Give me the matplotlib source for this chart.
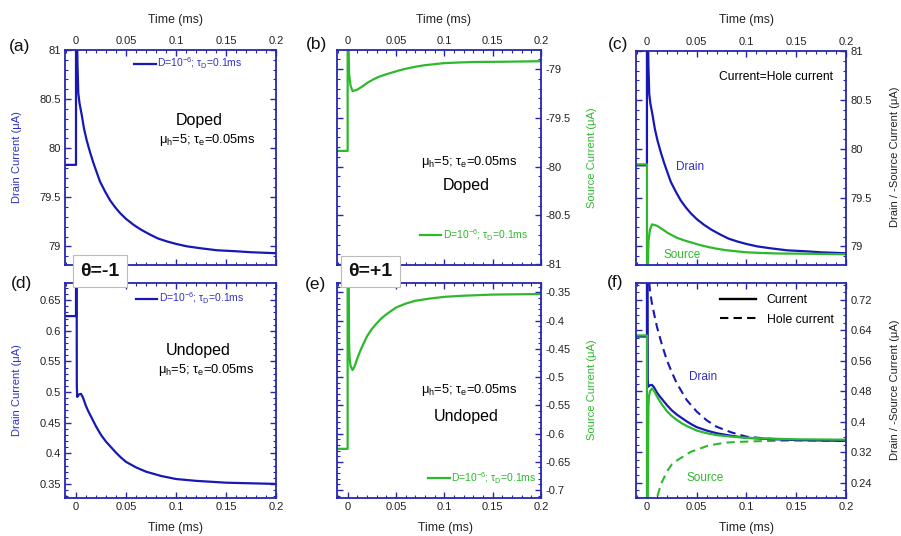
import matplotlib
matplotlib.use('Agg')
import matplotlib.pyplot as plt
from matplotlib.ticker import MultipleLocator, FuncFormatter
import numpy as np

plt.rcParams['font.family'] = ['Liberation Sans', 'DejaVu Sans']
plt.rcParams['mathtext.fontset'] = 'custom'
plt.rcParams['mathtext.rm'] = 'Liberation Sans'
plt.rcParams['mathtext.it'] = 'Liberation Sans:italic'
plt.rcParams['mathtext.bf'] = 'Liberation Sans:bold'
plt.rcParams['axes.unicode_minus'] = False

# ---------------- data (time in ms, current in uA) ----------------
# (a)/(c) drain current, doped
t_drain_doped = [-0.011, 0.0, 0.0, 0.0008, 0.0015, 0.0023, 0.0035, 0.0057, 0.0080, 0.0107,
                 0.0140, 0.0174, 0.0205, 0.0240, 0.0290, 0.0340, 0.0390, 0.0440, 0.0500,
                 0.0575, 0.0650, 0.0740, 0.0820, 0.0910, 0.1000, 0.1110, 0.1250, 0.1410,
                 0.1600, 0.1750, 0.2000]
i_drain_doped = [79.83, 79.83, 81.6, 81.3, 80.85, 80.56, 80.46, 80.34, 80.20, 80.08,
                 79.96, 79.85, 79.76, 79.66, 79.56, 79.47, 79.40, 79.34, 79.28,
                 79.22, 79.17, 79.12, 79.08, 79.05, 79.025, 79.00, 78.98, 78.96,
                 78.95, 78.94, 78.93]
# (b) source current, doped  (panel c shows its negative)
t_source_doped = [-0.011, 0.0, 0.0, 0.0006, 0.0015, 0.0030, 0.0050, 0.0075, 0.0103, 0.0150,
                  0.0206, 0.0260, 0.0310, 0.0380, 0.0447, 0.0530, 0.0620, 0.0700, 0.0790,
                  0.0900, 0.0997, 0.1150, 0.1310, 0.1650, 0.2000]
i_source_doped = [-79.84, -79.84, -78.6, -78.6, -79.05, -79.17, -79.225, -79.22, -79.21, -79.18,
                  -79.14, -79.11, -79.085, -79.06, -79.04, -79.015, -78.993, -78.977, -78.962,
                  -78.95, -78.94, -78.933, -78.928, -78.925, -78.92]
# (d)/(f) drain current, undoped
t_drain_undoped = [-0.011, 0.0, 0.0, 0.0006, 0.0008, 0.0012, 0.0020, 0.0030, 0.0050, 0.0070,
                   0.0100, 0.0125, 0.0150, 0.0175, 0.0200, 0.0250, 0.0300, 0.0350, 0.0400,
                   0.0450, 0.0500, 0.0600, 0.0700, 0.0850, 0.1000, 0.1200, 0.1500, 0.2000]
i_drain_undoped = [0.624, 0.624, 0.80, 0.80, 0.510, 0.492, 0.494, 0.496, 0.497, 0.491,
                   0.477, 0.468, 0.460, 0.452, 0.444, 0.430, 0.419, 0.410, 0.401,
                   0.393, 0.386, 0.377, 0.370, 0.363, 0.358, 0.355, 0.352, 0.350]
# (e) source current, undoped  (panel f shows its negative)
t_source_undoped = [-0.011, 0.0, 0.0, 0.0006, 0.0015, 0.0020, 0.0030, 0.0050, 0.0070, 0.0100,
                    0.0125, 0.0150, 0.0175, 0.0200, 0.0250, 0.0300, 0.0350, 0.0400, 0.0450,
                    0.0500, 0.0600, 0.0700, 0.0850, 0.1000, 0.1200, 0.1500, 0.2000]
i_source_undoped = [-0.627, -0.627, -0.15, -0.15, -0.44, -0.465, -0.480, -0.4875, -0.482, -0.467,
                    -0.456, -0.446, -0.437, -0.428, -0.415, -0.405, -0.396, -0.389, -0.383,
                    -0.377, -0.370, -0.365, -0.361, -0.358, -0.356, -0.354, -0.353]
# (f) hole currents, undoped
t_drain_hole = [0.0012, 0.0030, 0.0050, 0.0075, 0.0100, 0.0150, 0.0200, 0.0250, 0.0300,
                0.0400, 0.0500, 0.0600, 0.0700, 0.0850, 0.1000, 0.1200, 0.1500, 0.2000]
i_drain_hole = [0.80, 0.745, 0.711, 0.680, 0.650, 0.603, 0.562, 0.530, 0.501,
                0.457, 0.427, 0.404, 0.387, 0.372, 0.361, 0.356, 0.352, 0.350]
t_source_hole = [0.0080, 0.0100, 0.0143, 0.0210, 0.0250, 0.0310, 0.0440, 0.0610, 0.0775,
                 0.0900, 0.1110, 0.1500, 0.2000]
i_source_hole = [0.17, 0.20, 0.238, 0.273, 0.288, 0.300, 0.321, 0.337, 0.345,
                 0.347, 0.349, 0.351, 0.351]

xticks = [0, 0.05, 0.1, 0.15, 0.2]

# ---------------- styling ----------------
W, H = 901, 536
BLUE = '#1818b4'
BLUE_TXT = '#3030c8'
GREEN = '#2eb82e'
FRAME = '#2626b0'
TICKC = '#222222'

fig = plt.figure(figsize=(W / 100, H / 100), dpi=100)


def rect(l, r, t, b):
    return [l / W, 1 - b / H, (r - l) / W, (b - t) / H]


fmt = FuncFormatter(lambda v, p: f'{v:.10g}')


def make_ax(box, top, yright, ylim, ymaj, ymin):
    ax = fig.add_axes(rect(*box))
    ax.set_xlim(-0.011, 0.2)
    ax.set_ylim(*ylim)
    ax.set_xticks(xticks)
    ax.xaxis.set_minor_locator(MultipleLocator(0.01))
    ax.yaxis.set_major_locator(MultipleLocator(ymaj))
    ax.yaxis.set_minor_locator(MultipleLocator(ymin))
    ax.xaxis.set_major_formatter(fmt)
    ax.yaxis.set_major_formatter(fmt)
    for s in ax.spines.values():
        s.set_color(FRAME)
        s.set_linewidth(1.3)
    ax.tick_params(which='both', direction='in', top=True, bottom=True, left=True, right=True,
                   color=FRAME, labelcolor=TICKC, labelsize=8, pad=3)
    ax.tick_params(which='major', length=4, width=1.0)
    ax.tick_params(which='minor', length=2.2, width=0.8)
    ax.tick_params(axis='x', labeltop=top, labelbottom=not top)
    ax.tick_params(axis='y', labelleft=not yright, labelright=yright)
    return ax


leg_label = 'D=10$^{-6}$; τ$_{\\mathrm{D}}$=0.1ms'
param_txt = 'μ$_{\\mathrm{h}}$=5; τ$_{\\mathrm{e}}$=0.05ms'
LW = 1.6
PFS = 9.3
DFS = 11.5


def add_leg(ax, color, cx, cy):
    lg = ax.legend(loc='center', bbox_to_anchor=(cx, cy), frameon=False, fontsize=7.5,
                   handlelength=2.1, handletextpad=0.15, borderpad=0, borderaxespad=0,
                   labelcolor=color)
    return lg


# (a)
ax = make_ax((65, 276, 50, 265), True, False, (78.81, 81.0), 0.5, 0.1)
ax.plot(t_drain_doped, i_drain_doped, color=BLUE, lw=LW, label=leg_label)
add_leg(ax, BLUE_TXT, 0.583, 0.938)
ax.text(0.635, 0.674, 'Doped', transform=ax.transAxes, ha='center', va='center', fontsize=DFS)
ax.text(0.673, 0.581, param_txt, transform=ax.transAxes, ha='center', va='center', fontsize=PFS)

# (b)
ax = make_ax((337, 541, 50, 265), True, True, (-81.01, -78.805), 0.5, 0.1)
ax.plot(t_source_doped, i_source_doped, color=GREEN, lw=LW, label=leg_label)
add_leg(ax, GREEN, 0.671, 0.140)
ax.text(0.647, 0.479, param_txt, transform=ax.transAxes, ha='center', va='center', fontsize=PFS)
ax.text(0.632, 0.372, 'Doped', transform=ax.transAxes, ha='center', va='center', fontsize=DFS)

# (c)
ax = make_ax((636, 846, 51, 265), True, True, (78.81, 81.0), 0.5, 0.1)
ax.plot(t_drain_doped, i_drain_doped, color=BLUE, lw=LW)
ax.plot(t_source_doped, -np.asarray(i_source_doped), color=GREEN, lw=LW)
ax.text(0.667, 0.879, 'Current=Hole current', transform=ax.transAxes, ha='center', va='center',
        fontsize=8.7)
ax.text(0.257, 0.456, 'Drain', transform=ax.transAxes, ha='center', va='center', fontsize=8.5,
        color=BLUE_TXT)
ax.text(0.219, 0.047, 'Source', transform=ax.transAxes, ha='center', va='center', fontsize=8.5,
        color=GREEN)

# (d)
ax = make_ax((65, 276, 283, 498), False, False, (0.327, 0.678), 0.05, 0.01)
ax.plot(t_drain_undoped, i_drain_undoped, color=BLUE, lw=LW, label=leg_label)
add_leg(ax, BLUE_TXT, 0.592, 0.929)
ax.text(0.629, 0.685, 'Undoped', transform=ax.transAxes, ha='center', va='center', fontsize=DFS)
ax.text(0.671, 0.595, param_txt, transform=ax.transAxes, ha='center', va='center', fontsize=PFS)

# (e)
ax = make_ax((337, 541, 283, 498), False, True, (-0.714, -0.3335), 0.05, 0.01)
ax.plot(t_source_undoped, i_source_undoped, color=GREEN, lw=LW, label=leg_label)
add_leg(ax, GREEN, 0.712, 0.092)
ax.text(0.647, 0.502, param_txt, transform=ax.transAxes, ha='center', va='center', fontsize=PFS)
ax.text(0.632, 0.381, 'Undoped', transform=ax.transAxes, ha='center', va='center', fontsize=DFS)

# (f)
ax = make_ax((636, 846, 283, 498), False, True, (0.1998, 0.7647), 0.08, 0.02)
ax.plot(t_drain_hole, i_drain_hole, color=BLUE, lw=1.5, ls=(0, (4, 2.5)))
ax.plot(t_source_hole, i_source_hole, color=GREEN, lw=1.5, ls=(0, (4, 2.5)))
ax.plot(t_drain_undoped, i_drain_undoped, color=BLUE, lw=LW)
ax.plot(t_source_undoped, -np.asarray(i_source_undoped), color=GREEN, lw=LW)
h1, = ax.plot([], [], color='black', lw=1.7, label='Current')
h2, = ax.plot([], [], color='black', lw=1.5, ls=(0, (4, 2.5)), label='Hole current')
ax.legend(handles=[h1, h2], loc='center', bbox_to_anchor=(0.669, 0.874), frameon=False,
          fontsize=8.8, handlelength=3.0, handletextpad=0.85, labelspacing=0.6,
          borderpad=0, borderaxespad=0)
ax.text(0.319, 0.563, 'Drain', transform=ax.transAxes, ha='center', va='center', fontsize=8.5,
        color=BLUE_TXT)
ax.text(0.329, 0.093, 'Source', transform=ax.transAxes, ha='center', va='center', fontsize=8.5,
        color=GREEN)


def ftxt(x, y, s, **kw):
    fig.text(x / W, 1 - y / H, s, ha='center', va='center', **kw)


# axis titles
for x in (175.7, 444, 746.7):
    ftxt(x, 20.5, 'Time (ms)', fontsize=8.8, color=TICKC)
for x in (175.7, 445, 746.7):
    ftxt(x, 528.3, 'Time (ms)', fontsize=8.8, color=TICKC)
ftxt(16.7, 157, 'Drain Current (μA)', fontsize=8, color=BLUE_TXT, rotation=90)
ftxt(16.7, 390, 'Drain Current (μA)', fontsize=8, color=BLUE_TXT, rotation=90)
ftxt(591.7, 158, 'Source Current (μA)', fontsize=8, color=GREEN, rotation=90)
ftxt(591.7, 390, 'Source Current (μA)', fontsize=8, color=GREEN, rotation=90)
ftxt(895, 157, 'Drain / -Source Current (μA)', fontsize=8, color=TICKC, rotation=90)
ftxt(895, 390, 'Drain / -Source Current (μA)', fontsize=8, color=TICKC, rotation=90)

# panel labels
for x, y, s in [(20, 47, '(a)'), (316.7, 45, '(b)'), (618, 45, '(c)'),
                (21.7, 283.3, '(d)'), (315, 285, '(e)'), (615, 283, '(f)')]:
    ftxt(x, y, s, fontsize=12.5, color='#111111')

# theta boxes
for x, y, s in [(100, 271, 'θ=-1'), (370.5, 271.5, 'θ=+1')]:
    ftxt(x, y, s, fontsize=14, fontweight='bold', color='#111111', zorder=10,
         bbox=dict(boxstyle='square,pad=0.38', facecolor='white', edgecolor='#bbbbbb', lw=0.8))

fig.savefig('out.png', dpi=100)
